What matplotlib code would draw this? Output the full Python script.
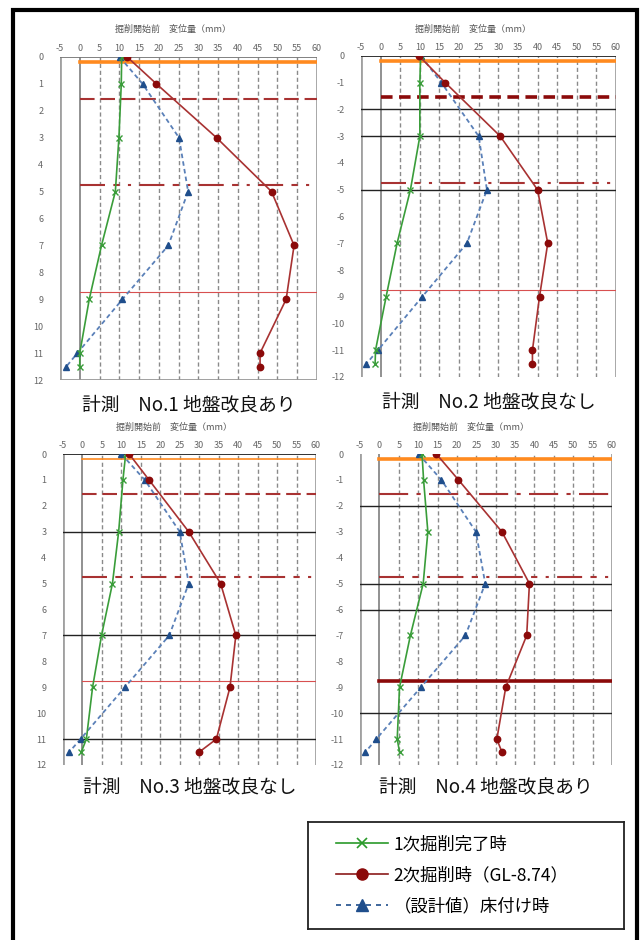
import matplotlib
matplotlib.use("Agg")
import matplotlib.pyplot as plt
from matplotlib.lines import Line2D
from matplotlib.patches import Rectangle

plt.rcParams['font.family'] = ['Noto Sans CJK JP', 'DejaVu Sans']

# ---- data (depth in m, displacement in mm) ---------------------------------------
depth = [0, 1, 3, 5, 7, 9, 11, 11.5]

first_exc = {   # 1次掘削完了時
    1: [10.6, 10.5, 9.9, 9.0, 5.5, 2.4, 0.0, 0.0],
    2: [10.2, 10.0, 10.0, 7.6, 4.2, 1.4, -1.3, -1.4],
    3: [11.1, 10.4, 9.3, 7.7, 4.9, 2.6, 1.0, -0.3],
    4: [11.0, 11.4, 12.5, 11.3, 8.0, 5.2, 4.6, 5.2],
}
second_exc = {  # 2次掘削時 (GL-8.74)
    1: [12.0, 19.4, 34.6, 48.5, 54.2, 52.2, 45.6, 45.6],
    2: [9.8, 16.5, 30.5, 40.0, 42.6, 40.5, 38.7, 38.7],
    3: [12.0, 17.1, 27.3, 35.5, 39.4, 37.9, 34.4, 30.0],
    4: [14.7, 20.4, 31.6, 38.7, 38.0, 32.6, 30.3, 31.6],
}
design = {      # (設計値) 床付け時
    1: [10.1, 15.9, 25.1, 27.4, 22.4, 10.8, -0.6, -3.4],
    2: [10.3, 15.5, 25.0, 27.1, 22.0, 10.6, -0.7, -3.6],
    3: [10.0, 16.0, 25.0, 27.3, 22.3, 10.9, -0.5, -3.4],
    4: [10.1, 16.0, 24.9, 27.3, 22.2, 10.7, -0.8, -3.6],
}
captions = {1: "計測　No.1 地盤改良あり", 2: "計測　No.2 地盤改良なし",
            3: "計測　No.3 地盤改良なし", 4: "計測　No.4 地盤改良あり"}
levels = [0.2, 1.55, 4.75, 8.74]          # 掘削段階ライン (GL-)
black_rows = {1: [], 2: [2, 3, 5], 3: [3, 7, 11], 4: [2, 5, 6, 10]}
xticks = list(range(-5, 61, 5))
yticks = list(range(0, 13))
labels = ["1次掘削完了時", "2次掘削時（GL-8.74）", "（設計値）床付け時"]
title = "掘削開始前　変位量（mm）"

# ---- figure ---------------------------------------------------------------------
W, H = 640, 940
fig = plt.figure(figsize=(W / 100, H / 100), dpi=100)
fig.patches.append(Rectangle((13 / W, -0.05), 624 / W, 1.05 - 10 / H, transform=fig.transFigure,
                             fill=False, edgecolor="black", linewidth=3, clip_on=False))

boxes = {1: (60, 57, 317, 380), 2: (361, 56, 616, 377),
         3: (63, 454, 316, 765), 4: (360, 454, 612, 765)}

GREEN = "#3a9d3a"; RED = "#a83232"; REDM = "#8b0a0a"; BLUE = "#5a80b8"; BLUEM = "#1f4e8c"
ORANGE = "#ff8a1f"

for k, (x0, y0, x1, y1) in boxes.items():
    ax = fig.add_axes([x0 / W, 1 - y1 / H, (x1 - x0) / W, (y1 - y0) / H])
    ax.set_xlim(-5, 60); ax.set_ylim(12, 0)
    for s in ax.spines.values():
        s.set_visible(False)
    # vertical grid
    for v in xticks:
        if v in (-5, 60):
            ax.axvline(v, color="#a0a0a0", lw=2.0, zorder=1)
        elif v == 0:
            ax.axvline(v, color="#909090", lw=1.4, zorder=1)
        else:
            ax.axvline(v, color="#8a8a8a", lw=1.0, dashes=(3, 2), zorder=1)
    # top / bottom edges
    if k in (2, 3):
        ax.axhline(0, color="#222", lw=1.3, zorder=1)
    elif k == 1:
        ax.axhline(0, color="#777", lw=1.3, zorder=1)
        ax.axhline(12, color="#999", lw=1.3, zorder=1)
    for r in black_rows[k]:
        ax.axhline(r, color="#222", lw=1.0, zorder=1)
    # excavation stage lines
    ax.plot([0, 60], [levels[0]] * 2, color=ORANGE, lw=1.2 if k == 3 else 2.6, zorder=2)
    if k == 2:
        ax.plot([0, 60], [levels[1]] * 2, color="#8b0a0a", lw=2.6, dashes=(3.2, 1.8), zorder=2)
    elif k == 4:
        ax.plot([0, 60], [levels[1]] * 2, color="#a83232", lw=1.5, dashes=(14, 4, 2, 4), zorder=2)
    else:
        ax.plot([0, 60], [levels[1]] * 2, color="#a83232", lw=1.5, dashes=(7, 2.8), zorder=2)
    ax.plot([0, 60], [levels[2]] * 2, color="#a83232", lw=1.5,
            dashes=(12, 4, 3, 4, 1.5, 4), zorder=2)
    if k == 4:
        ax.plot([0, 60], [levels[3]] * 2, color="#8b0a0a", lw=2.6, zorder=2)
    else:
        ax.plot([0, 60], [levels[3]] * 2, color="#d85050", lw=0.8, zorder=2)

    # series
    ax.plot(first_exc[k], depth, color=GREEN, lw=1.2, marker="x", ms=4.5, mew=1.0, zorder=4)
    ax.plot(second_exc[k], depth, color=RED, lw=1.2, marker="o", ms=4.6, mfc=REDM, mec=REDM, zorder=4)
    ax.plot(design[k], depth, color=BLUE, lw=1.3, dashes=(2.5, 1.8), marker="^", ms=5,
            mfc=BLUEM, mec=BLUEM, zorder=3)

    ax.xaxis.tick_top()
    ax.set_xticks(xticks)
    ax.set_xticklabels([str(v) for v in xticks], fontsize=6.5, color="#666")
    ax.set_yticks(yticks)
    if k in (2, 4):
        ax.set_yticklabels(["0"] + [f"-{v}" for v in yticks[1:]], fontsize=6.5, color="#666")
    else:
        ax.set_yticklabels([str(v) for v in yticks], fontsize=6.5, color="#666")
    ax.tick_params(length=0, pad=3)
    ax.tick_params(axis="y", pad=12)
    ax.text(0.44, 1.07, title, transform=ax.transAxes, ha="center", va="bottom",
            fontsize=6.5, color="#555")
    ax.text(0.5, -0.045 if k < 3 else -0.035, captions[k], transform=ax.transAxes, ha="center",
            va="top", fontsize=13.5, color="#111")

# ---- legend ---------------------------------------------------------------------
axl = fig.add_axes([308 / W, 1 - 929 / H, 316 / W, 107 / H])
axl.set_xticks([]); axl.set_yticks([])
for s in axl.spines.values():
    s.set_color("#222"); s.set_linewidth(1.3)
handles = [Line2D([], [], color="#2a9a2a", lw=1.2, marker="x", ms=7, mew=1.2),
           Line2D([], [], color="#8b1a1a", lw=1.2, marker="o", ms=8, mfc=REDM, mec=REDM),
           Line2D([], [], color=BLUEM, lw=1.2, dashes=(3, 3), marker="^", ms=8, mfc=BLUEM, mec=BLUEM)]
axl.legend(handles, labels, loc="center left", bbox_to_anchor=(0.04, 0.5), frameon=False,
           fontsize=12.5, handlelength=3.0, handletextpad=0.3, labelspacing=0.75)

fig.savefig("out.png", dpi=100)
